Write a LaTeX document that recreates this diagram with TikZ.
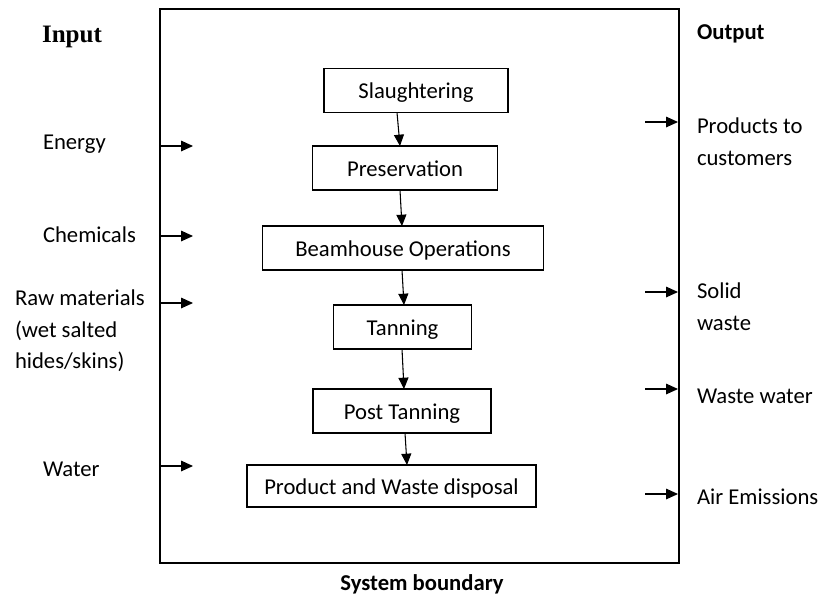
\documentclass[tikz,border=0pt]{standalone}
\usepackage{fontspec}
\setmainfont{Carlito}
\newfontfamily\headserif{Liberation Serif}
\usetikzlibrary{arrows.meta}
\begin{document}
\begin{tikzpicture}[x=0.75pt,y=-0.75pt,
  every node/.style={inner sep=0pt,outer sep=0pt},
  txt/.style={font=\fontsize{17}{23.6}\selectfont,anchor=west,align=left},
  stage/.style={draw,line width=0.8pt,minimum height=33pt,text height=12pt,text depth=0pt,font=\fontsize{17}{20}\selectfont},
  flow/.style={line width=0.8pt,-{Triangle[length=8.5pt,width=7.5pt]}},
  sidearrow/.style={line width=0.8pt,-{Triangle[length=9pt,width=8pt]}}]
\useasboundingbox (0,0) rectangle (821,597);

% system boundary
\draw[line width=0.9pt] (160,9) rectangle (679,563);
\node[font=\bfseries\fontsize{17}{20}\selectfont] (sb) at (422,584) {System boundary};

% headings
\node[font=\headserif\bfseries\fontsize{18.8}{22}\selectfont,anchor=west] (inp) at (42,37) {Input};
\node[font=\bfseries\fontsize{17}{20}\selectfont,anchor=west] (outp) at (697,34) {Output};

% process stages
\node[stage,minimum width=138pt] (s1) at (416,90.5) {Slaughtering};
\node[stage,minimum width=138.75pt] (s2) at (405,168) {Preservation};
\node[stage,minimum width=210.75pt] (s3) at (403,248) {Beamhouse Operations};
\node[stage,minimum width=103.5pt] (s4) at (402.5,327) {Tanning};
\node[stage,minimum width=133.5pt] (s5) at (402,411) {Post Tanning};
\node[stage,minimum width=216.75pt,minimum height=31.5pt] (s6) at (391.5,486) {Product and Waste disposal};

\draw[flow] (s1.south -| 397,0) -- (s2.north -| 400,0);
\draw[flow] (s2.south -| 400,0) -- (s3.north -| 402,0);
\draw[flow] (s3.south -| 402,0) -- (s4.north -| 404,0);
\draw[flow] (s4.south -| 402,0) -- (s5.north -| 404,0);
\draw[flow] (s5.south -| 405,0) -- (s6.north -| 407,0);

% inputs
\node[txt] (energy) at (43,144) {Energy};
\node[txt] (chem) at (43,235) {Chemicals};
\node[txt,anchor=north west] (raw) at (15,290) {Raw materials\\(wet salted\\hides/skins)};
\node[txt] (water) at (43,469) {Water};

\coordinate (ie1) at (160,146); \coordinate (ie2) at (193,146);
\coordinate (ic1) at (160,236); \coordinate (ic2) at (193,236);
\coordinate (ir1) at (160,303); \coordinate (ir2) at (193,303);
\coordinate (iw1) at (160,466); \coordinate (iw2) at (193,466);
\draw[sidearrow] (ie1) -- (ie2);
\draw[sidearrow] (ic1) -- (ic2);
\draw[sidearrow] (ir1) -- (ir2);
\draw[sidearrow] (iw1) -- (iw2);

% outputs
\node[txt,anchor=north west] (prod) at (697,118) {Products to\\customers};
\node[txt,anchor=north west] (solid) at (697,283) {Solid\\waste};
\node[txt] (ww) at (697,396) {Waste water};
\node[txt] (air) at (697,497) {Air Emissions};

\coordinate (op1) at (645,122); \coordinate (op2) at (678,122);
\coordinate (os1) at (645,292); \coordinate (os2) at (678,292);
\coordinate (ow1) at (645,389); \coordinate (ow2) at (678,389);
\coordinate (oa1) at (645,494); \coordinate (oa2) at (678,494);
\draw[sidearrow] (op1) -- (op2);
\draw[sidearrow] (os1) -- (os2);
\draw[sidearrow] (ow1) -- (ow2);
\draw[sidearrow] (oa1) -- (oa2);
\end{tikzpicture}
\end{document}
